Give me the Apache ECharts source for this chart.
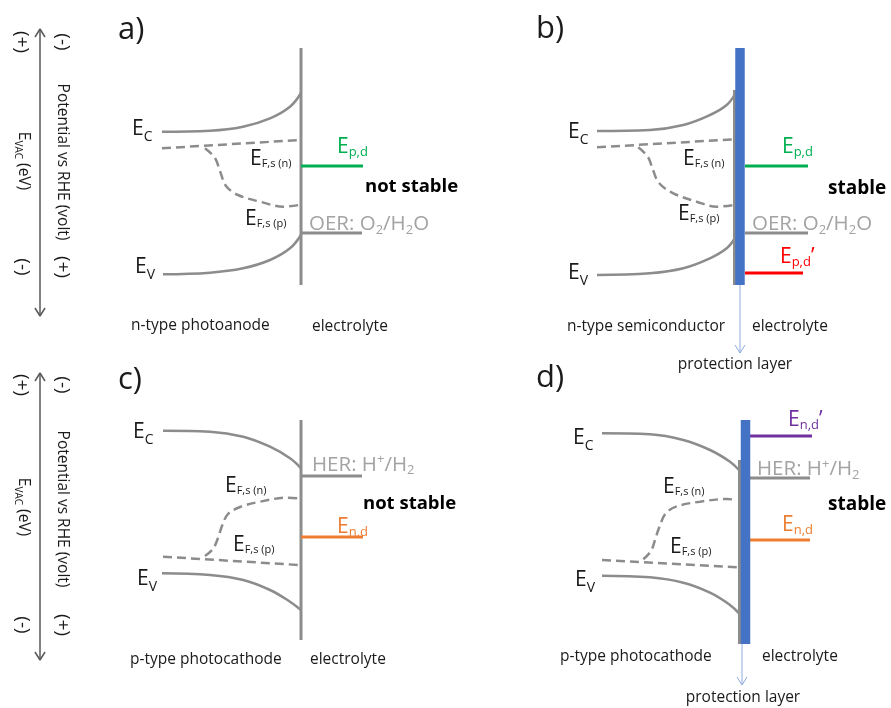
<!DOCTYPE html>
<html><head><meta charset="utf-8">
<script src="https://cdn.jsdelivr.net/npm/echarts@6/dist/echarts.min.js"></script>
<style>html,body{margin:0;padding:0;background:#fff}#c{width:891px;height:708px}</style>
</head><body><div id="c"></div>
<script>
// ---------- data (diagram coordinates) ----------
// panel a: n-type photoanode
const aEC  = [[162,131.7],[210,130.7],[243,126.7],[270,118.3],[290,106.7],[301,93]];
const aEV  = [[163,274.3],[210,272.7],[243,268.3],[270,260],[290,248.3],[301,235]];
const aEFn = [[162,148.3],[300,140]];
const aEFp = [[205,148.3],[215,158],[220,171],[226,186],[238,195],[260,201.7],[283.3,206.7],[299,205]];
const aIface = [[301,48],[301,285]];
const aEpd = [[301,166],[363,166]];
const aOER = [[301,233],[362,233]];
// panel b: n-type semiconductor + protection layer
const bEC  = [[597,131],[650,130],[683.3,125],[710,115],[726.7,105],[735,94]];
const bEV  = [[597,275],[650,273.3],[683.3,268.3],[710,258.3],[726.7,248.3],[735,238]];
const bEFn = [[597,147.3],[734,139.3]];
const bEFp = [[638.3,147.3],[648,157],[653,170],[659,183],[673.3,193.3],[696.7,201.7],[716.7,206.7],[733.3,205]];
const bIface = [[734.5,90],[734.5,285]];
const bLayer = [[740,48],[740,285]];
const bEpd  = [[745,166],[808,166]];
const bOER  = [[745,233],[808,233]];
const bEpd2 = [[745,273],[803,273]];
const bArrow = [[740,285],[740,353]];
const bHead  = [[735,345],[740,353],[745,345]];
// panel c: p-type photocathode
const cEC  = [[163,430.7],[210,431.7],[243.3,436.7],[270,446.7],[290,458.3],[301,468.3]];
const cEV  = [[162,573.3],[210,575],[243.3,580],[270,590],[290,601.7],[301,610]];
const cEFp = [[163,556.7],[299,565]];
const cEFn = [[205,556],[213,549],[218,538],[222,526],[228,514],[240,507],[260,501.7],[286.7,497.7],[299,498.3]];
const cIface = [[301,420],[301,640]];
const cHER = [[301,476],[362,476]];
const cEnd = [[301,537],[363,537]];
// panel d: p-type photocathode + protection layer
const dEC  = [[602,433.3],[650,434.3],[683.3,440],[710,450],[730,461.7],[739,470]];
const dEV  = [[602,575.7],[650,577.3],[683.3,582.7],[710,592.7],[730,605],[739,613.3]];
const dEFp = [[602,560],[738,567.3]];
const dEFn = [[643.3,559.3],[651,551],[655,540],[659,528],[666,513],[678,506],[700,501.7],[726.7,499],[737,500]];
const dIface = [[739.5,460],[739.5,644]];
const dLayer = [[745.5,420],[745.5,644]];
const dEnd2 = [[750,436],[812,436]];
const dHER  = [[750,478],[810,478]];
const dEnd  = [[750,540],[810,540]];
const dArrow = [[742,644],[742,685]];
const dHead  = [[737,677],[742,685],[747,677]];
// left energy axes (double arrows)
const axTop = [[40,29],[40,316]];
const axTopH1 = [[35,37],[40,29],[45,37]];
const axTopH2 = [[35,308],[40,316],[45,308]];
const axBot = [[40,373],[40,660]];
const axBotH1 = [[35,381],[40,373],[45,381]];
const axBotH2 = [[35,652],[40,660],[45,652]];

// ---------- styles ----------
const GRAY = '#8c8c8c', BLUE = '#4472C4', ARROW = '#8FAADC', AXIS = '#595959';
const GREEN = '#00B050', RED = '#FF0000', ORANGE = '#ED7D31', PURPLE = '#7030A0';
const TXT = '#1a1a1a', LGRAY = '#a3a3a3';
const FF = '"Open Sans", sans-serif';

function ln(data, color, width, opt) {
  opt = opt || {};
  return {
    type: 'line', data: data, symbol: 'none', silent: true, animation: false,
    smooth: opt.smooth || false, z: opt.z || 2,
    lineStyle: { color: color, width: width, type: opt.dash || 'solid', cap: opt.cap || 'butt' }
  };
}
const DASH = [9, 5];
const series = [
  ln(aIface, GRAY, 3), ln(aEC, GRAY, 2.5, {smooth: 0.4}), ln(aEV, GRAY, 2.5, {smooth: 0.4}),
  ln(aEFn, GRAY, 2.5, {dash: DASH}), ln(aEFp, GRAY, 2.5, {dash: DASH, smooth: 0.35}),
  ln(aEpd, GREEN, 3), ln(aOER, GRAY, 3),

  ln(bIface, GRAY, 3), ln(bLayer, BLUE, 9.5, {z: 4}),
  ln(bEC, GRAY, 2.5, {smooth: 0.4}), ln(bEV, GRAY, 2.5, {smooth: 0.4}),
  ln(bEFn, GRAY, 2.5, {dash: DASH}), ln(bEFp, GRAY, 2.5, {dash: DASH, smooth: 0.35}),
  ln(bEpd, GREEN, 3), ln(bOER, GRAY, 3), ln(bEpd2, RED, 3),
  ln(bArrow, ARROW, 1), ln(bHead, ARROW, 1),

  ln(cIface, GRAY, 3), ln(cEC, GRAY, 2.5, {smooth: 0.4}), ln(cEV, GRAY, 2.5, {smooth: 0.4}),
  ln(cEFp, GRAY, 2.5, {dash: DASH}), ln(cEFn, GRAY, 2.5, {dash: DASH, smooth: 0.35}),
  ln(cHER, GRAY, 3), ln(cEnd, ORANGE, 3),

  ln(dIface, GRAY, 3), ln(dLayer, BLUE, 9.5, {z: 4}),
  ln(dEC, GRAY, 2.5, {smooth: 0.4}), ln(dEV, GRAY, 2.5, {smooth: 0.4}),
  ln(dEFp, GRAY, 2.5, {dash: DASH}), ln(dEFn, GRAY, 2.5, {dash: DASH, smooth: 0.35}),
  ln(dEnd2, PURPLE, 3), ln(dHER, GRAY, 3), ln(dEnd, ORANGE, 3),
  ln(dArrow, ARROW, 1), ln(dHead, ARROW, 1),

  ln(axTop, AXIS, 1.5), ln(axTopH1, AXIS, 1.5), ln(axTopH2, AXIS, 1.5),
  ln(axBot, AXIS, 1.5), ln(axBotH1, AXIS, 1.5), ln(axBotH2, AXIS, 1.5)
];

// ---------- texts ----------
function rich(M, S, color, L) {
  return {
    m: {fontSize: M, fontFamily: FF, fill: color, lineHeight: L},
    s: {fontSize: S, fontFamily: FF, fill: color, lineHeight: L, verticalAlign: 'bottom'},
    u: {fontSize: S, fontFamily: FF, fill: color, lineHeight: L, verticalAlign: 'top'}
  };
}
function T(x, y, text, r, opt) {
  opt = opt || {};
  return {
    type: 'text', x: x, y: y, rotation: opt.rot || 0, silent: true, z: 10,
    style: {
      text: text, rich: r, fill: opt.color || TXT,
      fontSize: opt.size || 15.5, fontFamily: FF, fontWeight: opt.weight || 'normal',
      textAlign: opt.align || 'left', textVerticalAlign: 'middle'
    }
  };
}
const rEC  = c => rich(21, 14, c, 29);
const rEF  = c => rich(21, 11, c, 20);
const rEpd = c => rich(21, 13, c, 23);
const rGas = c => rich(20.5, 13, c, 24);
const rVac = c => rich(15.5, 10, c, 19.5);

const lblEC = '{m|E}{s|C}', lblEV = '{m|E}{s|V}';
const lblEFn = '{m|E}{s|F,s (n)}', lblEFp = '{m|E}{s|F,s (p)}';
const lblEpd = '{m|E}{s|p,d}', lblEpd2 = '{m|E}{s|p,d}{m|’}';
const lblEnd = '{m|E}{s|n,d}', lblEnd2 = '{m|E}{s|n,d}{m|’}';
const lblOER = '{m|OER: O}{s|2}{m|/H}{s|2}{m|O}';
const lblHER = '{m|HER: H}{u|+}{m|/H}{s|2}';
const lblVac = '{m|E}{s|VAC}{m| (eV)}';
const R90 = -Math.PI / 2;
const PM = {rot: R90, align: 'center', size: 19};
const SM = 15.5;

const graphic = [
  // panel letters
  T(118, 30, 'a)', null, {size: 31}), T(536, 29, 'b)', null, {size: 31}),
  T(118, 380, 'c)', null, {size: 31}), T(536, 378, 'd)', null, {size: 31}),
  // left axes
  T(21, 42, '(+)', null, PM), T(62, 42, '(-)', null, PM),
  T(23, 161, lblVac, rVac(TXT), {rot: R90, align: 'center'}),
  T(62, 162, 'Potential vs RHE (volt)', null, {rot: R90, align: 'center'}),
  T(22, 267, '(-)', null, PM), T(62, 267, '(+)', null, PM),
  T(21, 385, '(+)', null, PM), T(62, 385, '(-)', null, PM),
  T(23, 507, lblVac, rVac(TXT), {rot: R90, align: 'center'}),
  T(62, 509, 'Potential vs RHE (volt)', null, {rot: R90, align: 'center'}),
  T(22, 625, '(-)', null, PM), T(62, 625, '(+)', null, PM),
  // panel a
  T(132, 129.5, lblEC, rEC(TXT)), T(135, 267.5, lblEV, rEC(TXT)),
  T(250, 159, lblEFn, rEF(TXT)), T(245, 219.5, lblEFp, rEF(TXT)),
  T(337, 147.5, lblEpd, rEpd(GREEN)),
  T(365, 187, 'not stable', null, {size: 18.5, weight: 'bold', color: '#000'}),
  T(309, 224.5, lblOER, rGas(LGRAY)),
  T(131, 326, 'n-type photoanode', null, {size: SM}),
  T(312, 327, 'electrolyte', null, {size: SM}),
  // panel b
  T(568, 132.5, lblEC, rEC(TXT)), T(568, 273.5, lblEV, rEC(TXT)),
  T(683, 159.5, lblEFn, rEF(TXT)), T(678, 214.5, lblEFp, rEF(TXT)),
  T(782, 147.5, lblEpd, rEpd(GREEN)),
  T(828, 188.5, 'stable', null, {size: 19, weight: 'bold', color: '#000'}),
  T(752, 224.5, lblOER, rGas(LGRAY)),
  T(780, 257.5, lblEpd2, rEpd(RED)),
  T(567, 327, 'n-type semiconductor', null, {size: SM}),
  T(752, 327, 'electrolyte', null, {size: SM}),
  T(735, 365, 'protection layer', null, {size: SM, align: 'center'}),
  // panel c
  T(133, 432.5, lblEC, rEC(TXT)), T(137, 579.5, lblEV, rEC(TXT)),
  T(225, 486.5, lblEFn, rEF(TXT)), T(233, 545.5, lblEFp, rEF(TXT)),
  T(312, 465, lblHER, rGas(LGRAY)),
  T(363, 503.5, 'not stable', null, {size: 18.5, weight: 'bold', color: '#000'}),
  T(337, 527.5, lblEnd, rEpd(ORANGE)),
  T(130, 660, 'p-type photocathode', null, {size: SM}),
  T(310, 660, 'electrolyte', null, {size: SM}),
  // panel d
  T(573, 438.5, lblEC, rEC(TXT)), T(575, 580.5, lblEV, rEC(TXT)),
  T(663, 487.5, lblEFn, rEF(TXT)), T(670, 547.5, lblEFp, rEF(TXT)),
  T(788, 420.5, lblEnd2, rEpd(PURPLE)),
  T(757, 469.5, lblHER, rGas(LGRAY)),
  T(828, 504.5, 'stable', null, {size: 19, weight: 'bold', color: '#000'}),
  T(782, 525.5, lblEnd, rEpd(ORANGE)),
  T(560, 657, 'p-type photocathode', null, {size: SM}),
  T(762, 657, 'electrolyte', null, {size: SM}),
  T(743, 698, 'protection layer', null, {size: SM, align: 'center'})
];

const chart = echarts.init(document.getElementById('c'), null, {renderer: 'canvas'});
chart.setOption({
  backgroundColor: '#fff',
  animation: false,
  grid: {left: 0, right: 0, top: 0, bottom: 0},
  xAxis: {type: 'value', min: 0, max: 891, show: false},
  yAxis: {type: 'value', min: 0, max: 708, inverse: true, show: false},
  series: series,
  graphic: graphic
});
</script>
</body></html>
